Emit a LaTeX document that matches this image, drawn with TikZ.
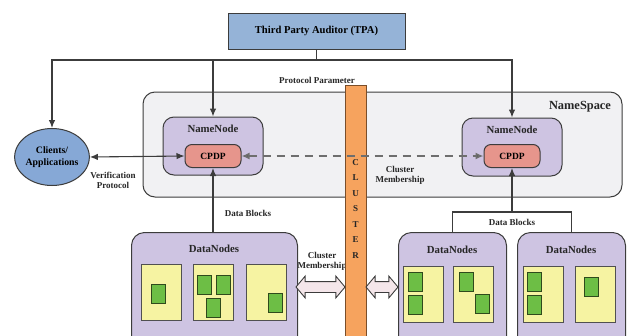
\documentclass[tikz,border=0pt]{standalone}
\usepackage{fontspec}
\setmainfont{Liberation Serif}
\usetikzlibrary{shapes.geometric,shapes.arrows,arrows.meta}

\definecolor{edge}{HTML}{3C3C3C}
\definecolor{tpablue}{HTML}{95B3D7}
\definecolor{cliblue}{HTML}{86A8D6}
\definecolor{lav}{HTML}{CEC4E2}
\definecolor{salmon}{HTML}{E6958C}
\definecolor{paleyellow}{HTML}{F6F3A2}
\definecolor{leaf}{HTML}{6DBE45}
\definecolor{leafedge}{HTML}{2F4A1C}
\definecolor{barorange}{HTML}{F6A35E}
\definecolor{baredge}{HTML}{7A4E2A}
\definecolor{nsgray}{HTML}{F1F1F3}
\definecolor{hollowpink}{HTML}{F4E6EA}
\definecolor{dashgray}{HTML}{6E6E6E}

\tikzset{
  lbl/.style={font=\fontsize{9}{10}\selectfont\bfseries, text=black!85, align=center, inner sep=0pt},
  tpabox/.style={draw=edge, line width=1pt, fill=tpablue, font=\fontsize{10.6}{12}\selectfont\bfseries},
  nsbox/.style={draw=edge, line width=1pt, fill=nsgray, rounded corners=12pt},
  nnbox/.style={draw=edge, line width=1pt, fill=lav, rounded corners=11pt},
  dnbox/.style={draw=edge, line width=1pt, fill=lav, rounded corners=13pt},
  cpdpbox/.style={draw=edge, line width=1pt, fill=salmon, rounded corners=7pt,
    minimum width=56pt, minimum height=23pt, font=\fontsize{9.5}{11}\selectfont\bfseries},
  slot/.style={draw=edge!90, line width=1pt, fill=paleyellow, minimum width=40pt, minimum height=56pt, inner sep=0pt},
  blk/.style={draw=leafedge, line width=1pt, fill=leaf, minimum width=14pt, minimum height=19pt, inner sep=0pt},
  conn/.style={draw=edge, line width=1.1pt},
  arr/.style={conn, -{Latex[length=8pt,width=6.5pt]}},
  hollow/.style={double arrow, draw=edge, line width=0.9pt, fill=hollowpink, inner xsep=0pt, inner ysep=5pt,
    double arrow head extend=5.5pt, double arrow tip angle=100, minimum width=21pt},
  title/.style={font=\fontsize{10.8}{12}\selectfont\bfseries, text=black!85, inner sep=0pt}
}

\begin{document}
\begin{tikzpicture}[x=1pt,y=-1pt]
\useasboundingbox (0,0) rectangle (628,335);

% name space frame
\node[nsbox, minimum width=479pt, minimum height=105pt] (ns) at (382.5,144.5) {};
\node[title, font=\fontsize{12.4}{14}\selectfont\bfseries] (nslbl) at (580,107) {NameSpace};

% auditor
\node[tpabox, minimum width=177pt, minimum height=36pt] (tpa) at (316.5,31) {Third Party Auditor (TPA)};

% clients
\node[ellipse, draw=edge, line width=1pt, fill=cliblue, minimum width=74pt, minimum height=57pt,
      align=center, inner sep=0pt, font=\fontsize{9.8}{12}\selectfont\bfseries] (cli) at (52,157) {Clients/\\Applications};

% name nodes with CPDP
\node[nnbox, minimum width=100pt, minimum height=58pt] (nnL) at (213,146) {};
\node[title] (nnLt) at (213,129) {NameNode};
\node[cpdpbox] (cpL) at (213,156) {CPDP};
\node[nnbox, minimum width=100pt, minimum height=58pt] (nnR) at (512,147) {};
\node[title] (nnRt) at (512,130) {NameNode};
\node[cpdpbox] (cpR) at (512,156) {CPDP};

% membership label sits partly under the cluster bar
\node[lbl] (cm2) at (322,261) {Cluster\\Membership};

% cluster bar
\node[draw=baredge, line width=1pt, fill=barorange, minimum width=21pt, minimum height=260pt, inner sep=0pt,
      anchor=north] (bar) at (355.5,85) {};
\node[lbl, font=\fontsize{9}{15.5}\selectfont\bfseries, anchor=north] (barlbl) at (355.5,159) {C\\L\\U\\S\\T\\E\\R};

% data nodes
\node[dnbox, minimum width=166pt, minimum height=120pt, anchor=north west] (dnL) at (131,232) {};
\node[title] (dnLt) at (214,249) {DataNodes};
\node[dnbox, minimum width=108pt, minimum height=120pt, anchor=north west] (dnA) at (398,232) {};
\node[title] (dnAt) at (452,250) {DataNodes};
\node[dnbox, minimum width=108pt, minimum height=120pt, anchor=north west] (dnB) at (517,232) {};
\node[title] (dnBt) at (571,250) {DataNodes};

% storage slots
\node[slot] (s1) at (161,292) {};
\node[slot] (s2) at (213,292) {};
\node[slot] (s3) at (266,292) {};
\node[slot] (s4) at (423,294) {};
\node[slot] (s5) at (473,294) {};
\node[slot] (s6) at (543,294) {};
\node[slot] (s7) at (595,294) {};

% blocks
\node[blk] (b1) at (158,294) {};
\node[blk] (b2) at (204,285) {};
\node[blk] (b3) at (223.5,285) {};
\node[blk] (b4) at (213.5,308) {};
\node[blk] (b5) at (275,303) {};
\node[blk] (b6) at (415,281.5) {};
\node[blk] (b7) at (415,305) {};
\node[blk] (b8) at (466,281.5) {};
\node[blk] (b9) at (482.5,303.5) {};
\node[blk] (b10) at (534.5,281.5) {};
\node[blk] (b11) at (534.5,304.5) {};
\node[blk] (b12) at (591,287) {};

% auditor fan-out
\coordinate (fan) at (316.5,60);
\draw[conn] (tpa.south) -- (fan);
\draw[arr] (fan) -| (cli.north);
\draw[arr] (fan) -| (nnL.north);
\draw[arr] (fan) -| (nnR.north);
\node[lbl] (pp) at (317,80) {Protocol Parameter};

% verification and CPDP links
\draw[conn, {Latex[length=8pt,width=6.5pt]}-{Latex[length=8pt,width=6.5pt]}] (cli.east) -- (cpL.west);
\node[lbl] (vp) at (113,180) {Verification\\Protocol};
\draw[draw=dashgray, line width=2pt, dash pattern=on 8pt off 6pt,
      {Latex[length=8pt,width=7pt,fill=edge]}-{Latex[length=8pt,width=7pt,fill=edge]}] (cpL.east) -- (cpR.west);
\node[lbl] (cm1) at (400,175) {Cluster\\Membership};

% data block uploads
\draw[arr] (dnL.north -| cpL.south) -- (cpL.south);
\node[lbl] (db1) at (248,213) {Data Blocks};
\coordinate (bt) at (512,212);
\draw[conn] (dnA.north) |- (bt) -| (dnB.north);
\draw[arr] (bt) -- (cpR.south);
\node[lbl] (db2) at (512,222) {Data Blocks};

% membership exchanges
\node[hollow, minimum height=49pt] (h1) at (320.5,287) {};
\node[hollow, minimum height=32pt] (h2) at (382,287) {};
\end{tikzpicture}
\end{document}
